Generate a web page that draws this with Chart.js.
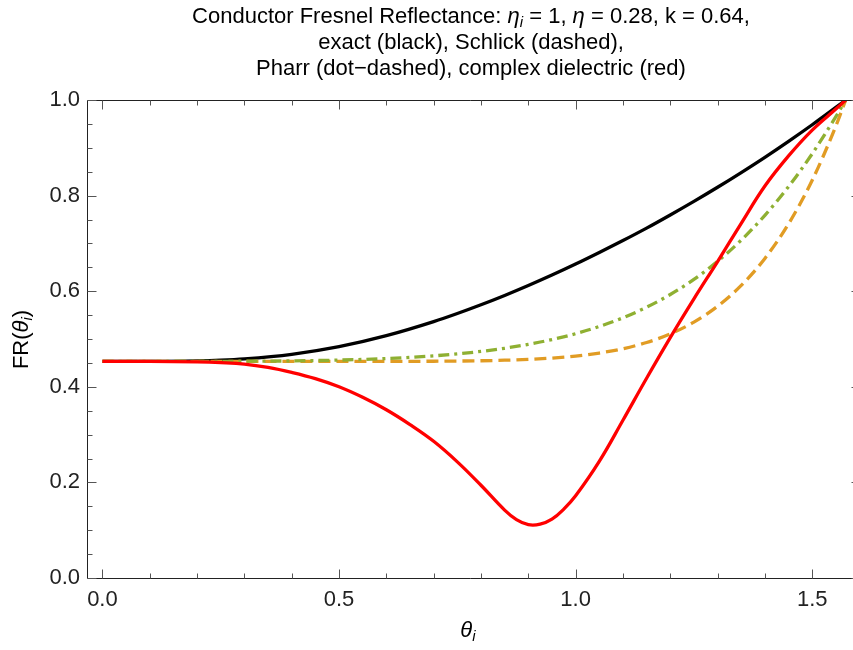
<!DOCTYPE html>
<html>
<head>
<meta charset="utf-8">
<script src="https://cdn.jsdelivr.net/npm/chart.js@4.4.1/dist/chart.umd.min.js"></script>
<style>
  html, body { margin: 0; padding: 0; overflow: hidden; background: #fff; }
  canvas { display: block; }
</style>
</head>
<body>
<canvas id="fresnelChart" width="853" height="650"></canvas>
<script>
// incidence angle samples (radians)
const theta = [0, 0.1, 0.2, 0.25, 0.3, 0.4, 0.5, 0.6, 0.7, 0.75, 0.8, 0.85, 0.9, 0.95,
  1.0, 1.05, 1.1, 1.15, 1.2, 1.25, 1.3, 1.35, 1.4, 1.45, 1.5, 1.55, 1.5708];

// exact conductor (black)
const exact = [0.4531, 0.4532, 0.4543, 0.4558, 0.4585, 0.4679, 0.4839, 0.5069, 0.5363, 0.5533,
  0.5716, 0.5911, 0.6119, 0.6338, 0.6568, 0.6810, 0.7060, 0.7320, 0.7595, 0.7879, 0.8174,
  0.8482, 0.8801, 0.9135, 0.9482, 0.9845, 1.0];

// Schlick (orange dashed)
const schlick = [0.4531, 0.4531, 0.4531, 0.4531, 0.4531, 0.4531, 0.4531, 0.4532, 0.4535, 0.4539,
  0.4545, 0.4556, 0.4573, 0.4601, 0.4643, 0.4706, 0.4797, 0.4927, 0.5107, 0.5354, 0.5684,
  0.6120, 0.6686, 0.7409, 0.8321, 0.9455, 1.0];

// Pharr (green dot-dashed)
const pharr = [0.4531, 0.4531, 0.4532, 0.4533, 0.4535, 0.4542, 0.4559, 0.4591, 0.4648, 0.4689,
  0.4741, 0.4806, 0.4887, 0.4988, 0.5111, 0.5262, 0.5444, 0.5665, 0.5931, 0.6247, 0.6624,
  0.7068, 0.7587, 0.8188, 0.8876, 0.9652, 1.0];

// complex dielectric (red), sampled more densely around the dip
const thetaRed = [0, 0.1, 0.2, 0.25, 0.3, 0.35, 0.4, 0.45, 0.5, 0.55, 0.6, 0.65, 0.7, 0.75, 0.8,
  0.85, 0.875, 0.9, 0.925, 0.95, 0.975, 1.0, 1.05, 1.1, 1.15, 1.2, 1.25, 1.3, 1.35, 1.4, 1.45,
  1.5, 1.55, 1.5708];
const dielectric = [0.4531, 0.4530, 0.4520, 0.4505, 0.4475, 0.4405, 0.4300, 0.4170, 0.4000, 0.3780,
  0.3520, 0.3210, 0.2860, 0.2430, 0.1940, 0.1420, 0.1220, 0.1115, 0.1125, 0.1230, 0.1440,
  0.1720, 0.2440, 0.3300, 0.4180, 0.5030, 0.5840, 0.6620, 0.7420, 0.8200, 0.8830, 0.9370,
  0.9810, 1.0];

const xTicks = [0, 0.5, 1.0, 1.5];
const xMinor = [0.1, 0.2, 0.3, 0.4, 0.6, 0.7, 0.8, 0.9, 1.1, 1.2, 1.3, 1.4];
const yTicks = [0, 0.2, 0.4, 0.6, 0.8, 1.0];
const yMinor = [0.05, 0.1, 0.15, 0.25, 0.3, 0.35, 0.45, 0.5, 0.55, 0.65, 0.7, 0.75, 0.85, 0.9, 0.95];

const FONT = '"Liberation Sans", Arial, sans-serif';
const FS = 22;
const X_MIN = -0.0326, X_MAX = 1.5862;

const pts = (xs, ys) => ys.map((v, i) => ({ x: xs[i], y: v }));

// draws a list of text runs; {t, it, sub}
function drawRuns(ctx, runs, cx, cy, size) {
  const subSize = Math.round(size * 0.7);
  const fontOf = r => (r.it ? 'italic ' : '') + (r.sub ? subSize : size) + 'px ' + FONT;
  let total = 0;
  runs.forEach(r => { ctx.font = fontOf(r); total += ctx.measureText(r.t).width; });
  let x = cx - total / 2;
  ctx.textAlign = 'left';
  ctx.textBaseline = 'middle';
  runs.forEach(r => {
    ctx.font = fontOf(r);
    ctx.fillText(r.t, x, r.sub ? cy + size * 0.28 : cy);
    x += ctx.measureText(r.t).width;
  });
}

const frame = {
  id: 'frame',
  afterDraw(chart) {
    const { ctx, scales: { x, y } } = chart;
    const W = chart.width;
    const L = Math.round(x.getPixelForValue(X_MIN)) + 0.5;
    const T = Math.round(y.getPixelForValue(1)) + 0.5;
    const B = Math.round(y.getPixelForValue(0)) + 0.5;
    ctx.save();
    // keep the strip at the right edge clean (the frame's right side is off-canvas)
    ctx.fillStyle = '#fff';
    ctx.fillRect(W - 4, T + 1, 4, B - T - 1);
    // frame: left, top, bottom
    ctx.strokeStyle = '#222';
    ctx.lineWidth = 1;
    ctx.beginPath();
    ctx.moveTo(W, T); ctx.lineTo(L, T); ctx.lineTo(L, B); ctx.lineTo(W, B);
    ctx.stroke();
    // ticks pointing inward
    ctx.strokeStyle = '#555';
    xTicks.concat(xMinor).forEach(v => {
      const len = xTicks.includes(v) ? 9 : 5;
      const px = Math.round(x.getPixelForValue(v)) + 0.5;
      ctx.beginPath();
      ctx.moveTo(px, B); ctx.lineTo(px, B - len);
      ctx.moveTo(px, T); ctx.lineTo(px, T + len);
      ctx.stroke();
    });
    yTicks.concat(yMinor).forEach(v => {
      const len = yTicks.includes(v) ? 9 : 5;
      const py = Math.round(y.getPixelForValue(v)) + 0.5;
      ctx.beginPath();
      ctx.moveTo(L, py); ctx.lineTo(L + len, py);
      ctx.stroke();
    });
    // stubs of the right-side major ticks peeking in at the edge
    yTicks.forEach(v => {
      const py = Math.round(y.getPixelForValue(v)) + 0.5;
      ctx.beginPath();
      ctx.moveTo(W, py); ctx.lineTo(W - 1.5, py);
      ctx.stroke();
    });

    // titles
    ctx.fillStyle = '#000';
    const cx = 471;
    drawRuns(ctx, [
      { t: 'Conductor Fresnel Reflectance: ' }, { t: 'η', it: true }, { t: 'i', it: true, sub: true },
      { t: ' = 1, ' }, { t: 'η', it: true }, { t: ' = 0.28, k = 0.64,' }
    ], cx, 17, FS);
    drawRuns(ctx, [{ t: 'exact (black), Schlick (dashed),' }], cx, 43, FS);
    drawRuns(ctx, [{ t: 'Pharr (dot\u2212dashed), complex dielectric (red)' }], cx, 69, FS);

    drawRuns(ctx, [{ t: 'θ', it: true }, { t: 'i', it: true, sub: true }], cx - 3, 631, FS);

    ctx.save();
    ctx.translate(22, (T + B) / 2);
    ctx.rotate(-Math.PI / 2);
    drawRuns(ctx, [{ t: 'FR(' }, { t: 'θ', it: true }, { t: 'i', it: true, sub: true }, { t: ')' }], 0, 0, FS);
    ctx.restore();
    ctx.restore();
  }
};

const line = (xs, ys, color, dash, order, smooth) => ({
  data: pts(xs, ys),
  borderColor: color,
  borderWidth: 3.3,
  borderDash: dash,
  borderCapStyle: 'butt',
  pointRadius: 0,
  cubicInterpolationMode: smooth ? 'default' : 'monotone',
  tension: smooth ? 0.4 : 0,
  fill: false,
  order: order
});

new Chart(document.getElementById('fresnelChart').getContext('2d'), {
  type: 'line',
  data: {
    datasets: [
      line(theta, exact, '#000000', [], 4, false),
      line(theta, schlick, '#e19c24', [12, 6], 3, false),
      line(theta, pharr, '#8fb032', [11, 5, 3, 5], 2, false),
      line(thetaRed, dielectric, '#ff0000', [], 1, true)
    ]
  },
  plugins: [frame],
  options: {
    responsive: false,
    animation: false,
    layout: { padding: { top: 100, right: 0, left: 0, bottom: 0 } },
    plugins: { legend: { display: false }, tooltip: { enabled: false } },
    scales: {
      x: {
        type: 'linear',
        min: X_MIN,
        max: X_MAX,
        afterBuildTicks: s => { s.ticks = xTicks.map(v => ({ value: v })); },
        afterFit: s => { s.height = 72; },
        grid: { display: false, drawTicks: false },
        border: { display: false },
        ticks: {
          padding: 9,
          color: '#222',
          font: { family: FONT, size: FS },
          maxRotation: 0,
          callback: v => v.toFixed(1)
        }
      },
      y: {
        type: 'linear',
        min: 0,
        max: 1,
        afterBuildTicks: s => { s.ticks = yTicks.map(v => ({ value: v })); },
        afterFit: s => { s.width = 87; },
        grid: { display: false, drawTicks: false },
        border: { display: false },
        ticks: {
          padding: 7,
          color: '#222',
          font: { family: FONT, size: FS },
          callback: v => v.toFixed(1)
        }
      }
    }
  }
});
</script>
</body>
</html>
